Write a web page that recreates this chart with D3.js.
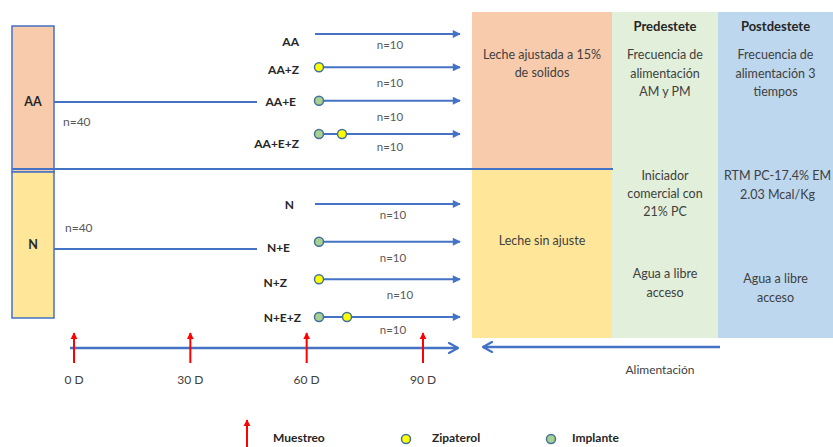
<!DOCTYPE html>
<html><head><meta charset="utf-8">
<script src="https://cdn.jsdelivr.net/npm/d3@7"></script>
<style>body{margin:0;background:#fff}svg{display:block;font-family:Lato,"Open Sans",sans-serif}</style>
</head><body><svg id="c" width="833" height="447"></svg>
<script>
// ---- data ----
const blocks = ["AA", "N"];
const blockN = ["n=40", "n=40"];
const aaGroups = ["AA", "AA+Z", "AA+E", "AA+E+Z"];
const nGroups = ["N", "N+E", "N+Z", "N+E+Z"];
const groupMarkers = { // E = implante, Z = zipaterol
  "AA": [], "AA+Z": ["Z"], "AA+E": ["E"], "AA+E+Z": ["E", "Z"],
  "N": [], "N+E": ["E"], "N+Z": ["Z"], "N+E+Z": ["E", "Z"]
};
const groupN = ["n=10", "n=10", "n=10", "n=10"];
const samplingDays = [0, 30, 60, 90];
const dayLabels = ["0 D", "30 D", "60 D", "90 D"];
const phases = ["Predestete", "Postdestete"];
const milkAA = ["Leche ajustada a 15%", "de solidos"];
const milkN = ["Leche sin ajuste"];
const preTop = ["Frecuencia de", "alimentación", "AM y PM"];
const postTop = ["Frecuencia de", "alimentación 3", "tiempos"];
const preMid = ["Iniciador", "comercial con", "21% PC"];
const postMid = ["RTM PC-17.4% EM", "2.03 Mcal/Kg"];
const preBot = ["Agua a libre", "acceso"];
const postBot = ["Agua a libre", "acceso"];
const feedLabel = "Alimentación";
const legendItems = ["Muestreo", "Zipaterol", "Implante"];

// ---- styles ----
const BLUE = "#4472C4", RED = "#FF0000", TXT = "#404040";
const COL = {AA: "#F8CBAD", N: "#FFE699", pre: "#E2EFDA", post: "#BDD7EE", Z: "#FFFF00", E: "#A9D18E"};

const svg = d3.select("#c");
const defs = svg.append("defs");
function marker(id, color, w, h) {
  defs.append("marker").attr("id", id).attr("viewBox", "0 0 10 10").attr("refX", 9).attr("refY", 5)
    .attr("markerWidth", w).attr("markerHeight", h).attr("orient", "auto-start-reverse")
    .attr("markerUnits", "userSpaceOnUse")
    .append("path").attr("d", "M0,0L10,5L0,10Z").attr("fill", color);
}
marker("ab", BLUE, 10, 8);
marker("ar", RED, 7, 9);
defs.append("marker").attr("id", "ao").attr("viewBox", "-1 -1 12 12").attr("refX", 10).attr("refY", 5)
  .attr("markerWidth", 12).attr("markerHeight", 12).attr("orient", "auto-start-reverse")
  .attr("markerUnits", "userSpaceOnUse")
  .append("path").attr("d", "M1,0L10,5L1,10").attr("fill", "none").attr("stroke", BLUE)
  .attr("stroke-width", 2.2).attr("stroke-linecap", "round").attr("stroke-linejoin", "round");

// scales
const xDay = d3.scaleLinear().domain([0, 90]).range([74, 423]);
const yBlock = d3.scaleBand().domain(blocks).range([26, 318]).paddingInner(0.0);
const yAA = d3.scalePoint().domain(aaGroups).range([34, 134]);
const yN = d3.scalePoint().domain(nGroups).range([204, 317]);
const xPanel = d3.scaleOrdinal().domain(["milk", "pre", "post"]).range([[472, 612], [612, 718], [718, 833]]);

// right panels
const pTop = 12, pMid = 169, pBot = 338;
[["milk", COL.AA, pTop, pMid], ["milk", COL.N, pMid, pBot], ["pre", COL.pre, pTop, pBot], ["post", COL.post, pTop, pBot]]
  .forEach(([k, c, y0, y1]) => {
    const [x0, x1] = xPanel(k);
    svg.append("rect").attr("x", x0).attr("y", y0).attr("width", x1 - x0).attr("height", y1 - y0).attr("fill", c);
  });

function lines(arr, cx, y0, dy, opts = {}) {
  const t = svg.append("text").attr("text-anchor", "middle").attr("fill", opts.fill || TXT)
    .attr("font-size", opts.size || 12.5).attr("font-weight", opts.weight || "normal");
  arr.forEach((s, i) => t.append("tspan").attr("x", cx).attr("y", y0 + i * dy).text(s));
}
const cx = k => (xPanel(k)[0] + xPanel(k)[1]) / 2;
svg.selectAll(".ph").data(phases).join("text").attr("class", "ph")
  .attr("x", (d, i) => cx(i ? "post" : "pre")).attr("y", 31).attr("text-anchor", "middle")
  .attr("font-weight", "bold").attr("font-size", 13).attr("fill", "#262626").text(d => d);
lines(milkAA, cx("milk"), 59, 18);
lines(milkN, cx("milk"), 245, 18);
lines(preTop, cx("pre"), 59, 18.5);
lines(postTop, cx("post"), 59, 18.5);
lines(preMid, cx("pre"), 180, 18);
lines(postMid, cx("post") + 2, 180, 18.5);
lines(preBot, cx("pre"), 278, 18.5);
lines(postBot, cx("post"), 283, 18.5);

// left blocks
svg.selectAll(".blk").data(blocks).join("rect").attr("class", "blk")
  .attr("x", 12).attr("y", d => yBlock(d)).attr("width", 42).attr("height", yBlock.bandwidth())
  .attr("fill", d => COL[d]).attr("stroke", BLUE).attr("stroke-width", 1.5);
svg.selectAll(".blkt").data(blocks).join("text").attr("class", "blkt")
  .attr("x", 33).attr("y", (d, i) => i ? 249 : 106).attr("text-anchor", "middle")
  .attr("font-weight", "bold").attr("font-size", 12.5).attr("fill", "#262626").text(d => d);

// divider
svg.append("line").attr("x1", 12).attr("x2", 613).attr("y1", 169).attr("y2", 169)
  .attr("stroke", BLUE).attr("stroke-width", 2);

// block trunk lines + n=40
const trunkY = [102, 249];
blocks.forEach((b, i) => {
  svg.append("line").attr("x1", 54).attr("x2", 257).attr("y1", trunkY[i]).attr("y2", trunkY[i])
    .attr("stroke", BLUE).attr("stroke-width", 2);
  svg.append("text").attr("x", i ? 65 : 63).attr("y", i ? 232 : 126).attr("font-size", 12)
    .attr("fill", "#595959").text(blockN[i]);
});

// groups
function drawGroups(groups, y, labelX, nOff) {
  groups.forEach((g, i) => {
    const yy = y(g);
    const m = groupMarkers[g];
    svg.append("line").attr("x1", m.length ? 319 : 315).attr("x2", 460).attr("y1", yy).attr("y2", yy)
      .attr("stroke", BLUE).attr("stroke-width", 2).attr("marker-end", "url(#ab)");
    svg.append("text").attr("x", labelX[i]).attr("y", yy + (g.startsWith("N") ? [1, 6, 4, 1][i] : [8, 3, 1, 10][i]) + 4)
      .attr("text-anchor", "end").attr("font-weight", "bold").attr("font-size", 12)
      .attr("fill", "#262626").text(g);
    m.forEach((k, j) => {
      svg.append("circle").attr("cx", 319 + j * (g.startsWith("N") ? 28 : 23)).attr("cy", yy).attr("r", 4.5)
        .attr("fill", COL[k]).attr("stroke", "#41719C").attr("stroke-width", 1.5);
    });
    svg.append("text").attr("x", nOff[i]).attr("y", yy + [15, 20, 20, 17][i] + 0).attr("text-anchor", "middle")
      .attr("font-size", 11.5).attr("fill", "#595959").text(groupN[i]);
  });
}
drawGroups(aaGroups, yAA, [299, 299, 296, 299], [390, 390, 390, 390]);
drawGroups(nGroups, yN, [294, 290, 287, 301], [393, 393, 400, 393]);

// time axis
svg.append("line").attr("x1", 70).attr("x2", 458).attr("y1", 348).attr("y2", 348)
  .attr("stroke", BLUE).attr("stroke-width", 2.5).attr("marker-end", "url(#ao)");
svg.selectAll(".samp").data(samplingDays).join("line").attr("class", "samp")
  .attr("x1", d => xDay(d)).attr("x2", d => xDay(d)).attr("y1", 363).attr("y2", 333)
  .attr("stroke", RED).attr("stroke-width", 2).attr("marker-end", "url(#ar)");
svg.selectAll(".dl").data(dayLabels).join("text").attr("class", "dl")
  .attr("x", (d, i) => xDay(samplingDays[i])).attr("y", 384).attr("text-anchor", "middle")
  .attr("font-size", 12).attr("fill", TXT).text(d => d);

// feeding arrow
svg.append("line").attr("x1", 720).attr("x2", 483).attr("y1", 347).attr("y2", 347)
  .attr("stroke", BLUE).attr("stroke-width", 2.5).attr("marker-end", "url(#ao)");
svg.append("text").attr("x", 660).attr("y", 374).attr("text-anchor", "middle")
  .attr("font-size", 12).attr("fill", TXT).text(feedLabel);

// legend
svg.append("line").attr("x1", 247).attr("x2", 247).attr("y1", 450).attr("y2", 420)
  .attr("stroke", RED).attr("stroke-width", 2).attr("marker-end", "url(#ar)");
const legX = [273, 432, 572];
svg.selectAll(".lg").data(legendItems).join("text").attr("class", "lg")
  .attr("x", (d, i) => legX[i]).attr("y", 442).attr("font-weight", "bold").attr("font-size", 12)
  .attr("fill", "#262626").text(d => d);
[["Z", 406], ["E", 551]].forEach(([k, x]) =>
  svg.append("circle").attr("cx", x).attr("cy", 439).attr("r", 4.5).attr("fill", COL[k])
    .attr("stroke", "#41719C").attr("stroke-width", 1.5));
</script></body></html>
